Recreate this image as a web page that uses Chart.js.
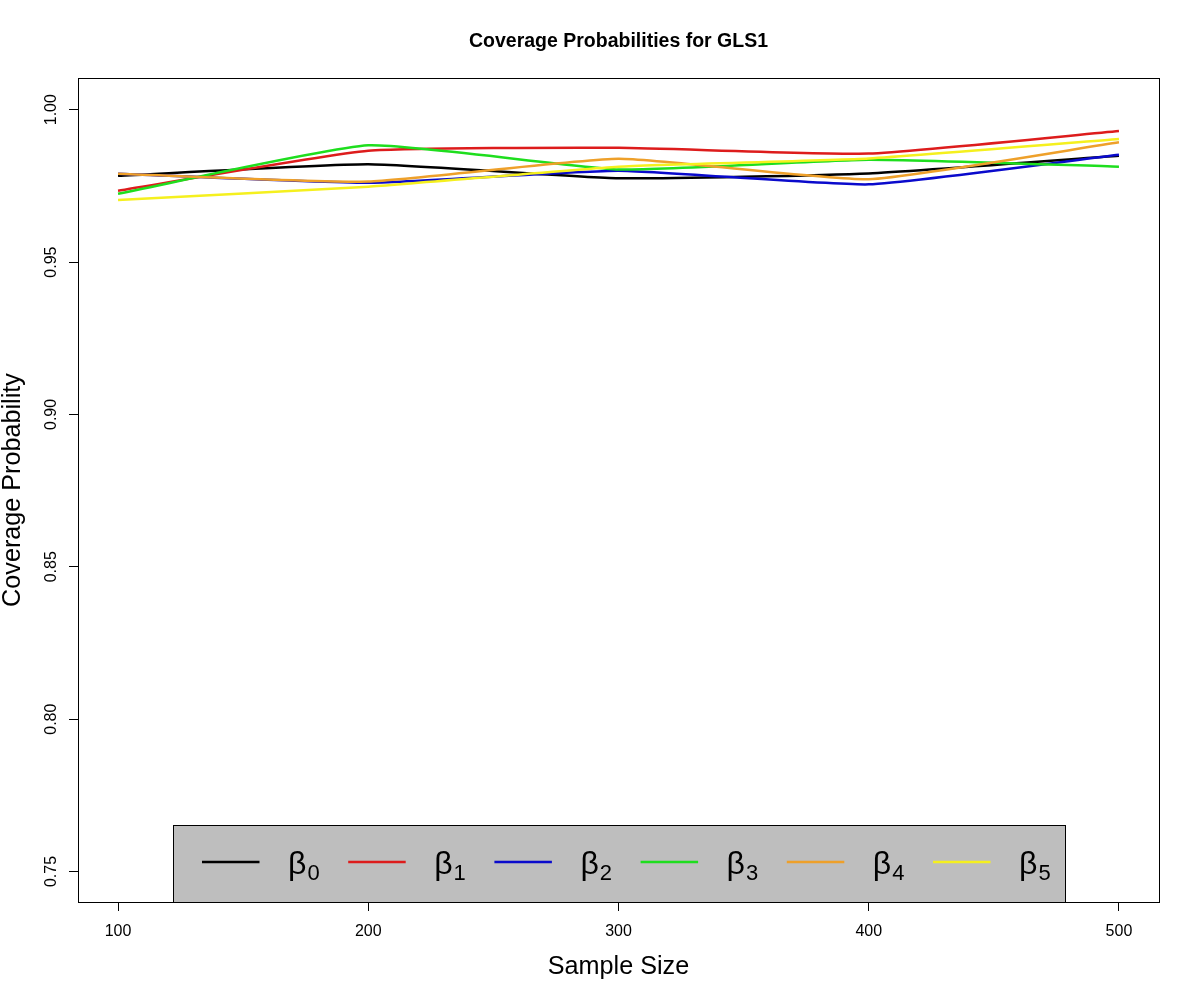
<!DOCTYPE html>
<html><head><meta charset="utf-8">
<script src="https://cdn.jsdelivr.net/npm/chart.js@4"></script>
<style>html,body{margin:0;padding:0;background:#fff}canvas{display:block}</style>
</head><body>
<canvas id="c" width="1200" height="1000"></canvas>
<script>
const sampleSizes = [100, 200, 300, 400, 500];
const beta0 = [0.9783, 0.9821, 0.9775, 0.9791, 0.9849];
const beta1 = [0.9734, 0.9865, 0.9875, 0.9856, 0.9930];
const beta2 = [0.9790, 0.9760, 0.9800, 0.9755, 0.9852];
const beta3 = [0.9724, 0.9883, 0.9804, 0.9836, 0.9813];
const beta4 = [0.9790, 0.9764, 0.9839, 0.9772, 0.9893];
const beta5 = [0.9704, 0.9747, 0.9813, 0.9840, 0.9904];
const seriesLabels = ['β0', 'β1', 'β2', 'β3', 'β4', 'β5'];
const seriesColors = ['#000000', '#DD1C1C', '#0A0ACC', '#1EDE1E', '#EEA02A', '#F5F01E'];
const xTicks = [100, 200, 300, 400, 500];
const yTicks = [0.75, 0.80, 0.85, 0.90, 0.95, 1.00];
const chartTitle = 'Coverage Probabilities for GLS1';
const xTitle = 'Sample Size';
const yTitle = 'Coverage Probability';

const FONT = '"Liberation Sans", Arial, sans-serif';
const seriesValues = [beta0, beta1, beta2, beta3, beta4, beta5];

const datasets = seriesValues.map((vals, i) => ({
  label: seriesLabels[i],
  data: sampleSizes.map((x, j) => ({x: x, y: vals[j]})),
  borderColor: seriesColors[i],
  backgroundColor: seriesColors[i],
  borderWidth: 2.5,
  pointRadius: 0,
  tension: 0.15,
  fill: false,
  order: seriesValues.length - 1 - i
}));

const framePlugin = {
  id: 'frame',
  afterDraw(chart) {
    const {ctx, chartArea: a} = chart;
    ctx.save();
    // legend box
    const boxW = 892, boxH = 77;
    const cx = (a.left + a.right) / 2;
    const bx = Math.round(cx - boxW / 2), by = Math.round(a.bottom - boxH);
    ctx.fillStyle = '#BEBEBE';
    ctx.fillRect(bx, by, boxW, boxH);
    ctx.strokeStyle = '#000';
    ctx.lineWidth = 1;
    ctx.strokeRect(bx + 0.5, by + 0.5, boxW, boxH);
    chart.data.datasets.forEach((ds, i) => {
      const lx = bx + 29 + i * 146.2;
      const ly = by + 37;
      ctx.strokeStyle = ds.borderColor;
      ctx.lineWidth = 2.5;
      ctx.beginPath();
      ctx.moveTo(lx, ly);
      ctx.lineTo(lx + 57.5, ly);
      ctx.stroke();
      const base = ds.label.charAt(0), sub = ds.label.slice(1);
      ctx.fillStyle = '#000';
      ctx.textBaseline = 'alphabetic';
      ctx.textAlign = 'left';
      ctx.font = '32px ' + FONT;
      const tx = lx + 86;
      ctx.fillText(base, tx, by + 49);
      const w = ctx.measureText(base).width;
      ctx.font = '22px ' + FONT;
      ctx.fillText(sub, tx + w + 1, by + 55);
    });
    // plot frame
    ctx.strokeStyle = '#000';
    ctx.lineWidth = 1;
    ctx.strokeRect(Math.round(a.left) + 0.5, Math.round(a.top) + 0.5,
      Math.round(a.right - a.left), Math.round(a.bottom - a.top));
    ctx.restore();
  }
};

new Chart(document.getElementById('c'), {
  type: 'line',
  data: {datasets: datasets},
  plugins: [framePlugin],
  options: {
    responsive: false,
    devicePixelRatio: 1,
    animation: false,
    layout: {padding: {left: 0, right: 41, top: 0, bottom: 0}},
    plugins: {
      legend: {display: false},
      tooltip: {enabled: false},
      title: {
        display: true,
        fullSize: false,
        text: chartTitle,
        color: '#000',
        font: {family: FONT, size: 19.5, weight: 'bold', lineHeight: 1.2},
        padding: {top: 29.8, bottom: 24.8}
      }
    },
    scales: {
      x: {
        type: 'linear',
        position: 'bottom',
        min: 84,
        max: 516,
        afterBuildTicks: s => { s.ticks = xTicks.map(v => ({value: v})); },
        afterFit: s => { s.height = 98; },
        border: {display: false},
        grid: {display: true, drawOnChartArea: false, drawTicks: true, tickLength: 9, color: '#000', lineWidth: 1},
        ticks: {
          color: '#000', font: {family: FONT, size: 16}, padding: 11.4,
          maxRotation: 0, minRotation: 0, autoSkip: false,
          callback: v => String(v)
        },
        title: {
          display: true, text: xTitle, color: '#000',
          font: {family: FONT, size: 25.2, lineHeight: 1},
          padding: {top: 0, bottom: 20.6}
        }
      },
      y: {
        type: 'linear',
        position: 'left',
        min: 0.74,
        max: 1.0104,
        afterBuildTicks: s => { s.ticks = yTicks.map(v => ({value: v})); },
        afterFit: s => { s.width = 78; },
        border: {display: false},
        grid: {display: true, drawOnChartArea: false, drawTicks: true, tickLength: 9, color: '#000', lineWidth: 1},
        ticks: {
          color: '#000', font: {family: FONT, size: 16}, padding: 2.3,
          minRotation: 90, maxRotation: 90, crossAlign: 'center', autoSkip: false,
          callback: v => Number(v).toFixed(2)
        },
        title: {
          display: true, text: yTitle, color: '#000',
          font: {family: FONT, size: 25.2, lineHeight: 1},
          padding: {top: 0, bottom: 0}
        }
      }
    }
  }
});
</script>
</body></html>
